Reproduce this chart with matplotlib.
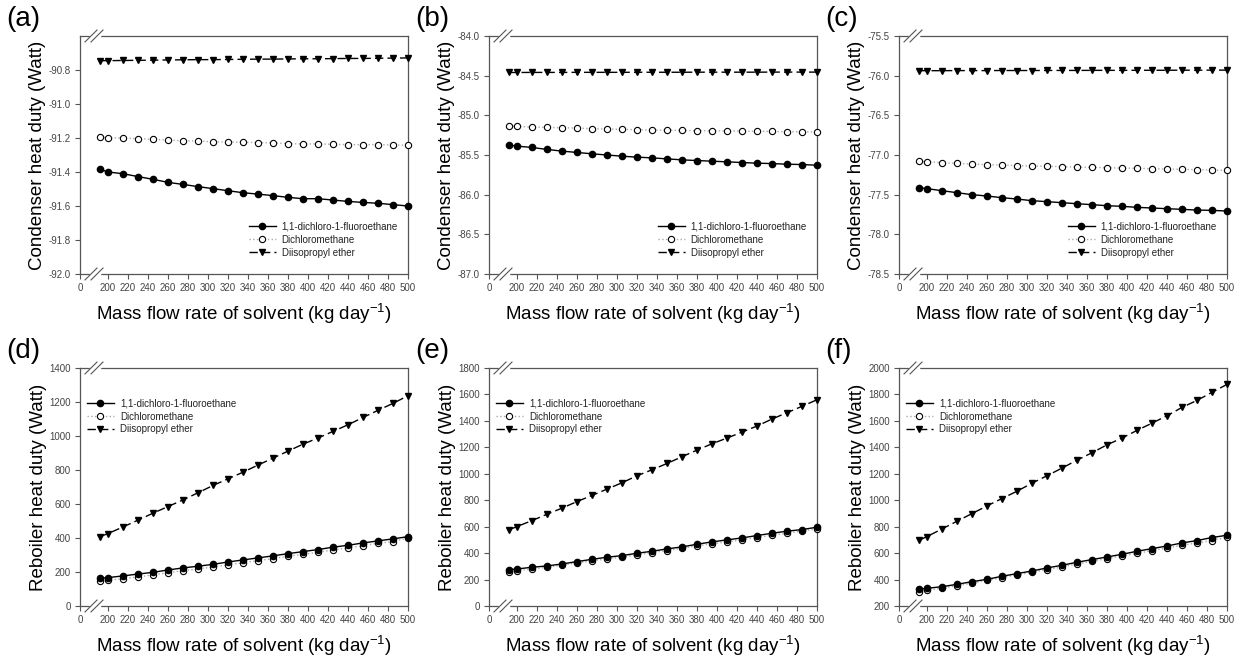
import matplotlib
matplotlib.use("Agg")
import matplotlib.pyplot as plt
import matplotlib.transforms as mtransforms

plt.rcParams['font.family'] = ['Liberation Sans', 'DejaVu Sans']

# mass flow rate of solvent (kg/day); first point sits just after the axis break
flow = [192, 200, 215, 230, 245, 260, 275, 290, 305, 320, 335, 350,
        365, 380, 395, 410, 425, 440, 455, 470, 485, 500]

solvents = ["1,1-dichloro-1-fluoroethane", "Dichloromethane", "Diisopropyl ether"]

# condenser heat duty (Watt), panels a-c
cond_a_dcfe = [-91.384, -91.400, -91.410, -91.427, -91.443, -91.461, -91.473, -91.486,
               -91.498, -91.510, -91.522, -91.530, -91.539, -91.549, -91.557, -91.557,
               -91.565, -91.573, -91.579, -91.584, -91.592, -91.600]
cond_a_dcm = [-91.194, -91.198, -91.200, -91.204, -91.208, -91.212, -91.216, -91.218,
              -91.222, -91.224, -91.225, -91.227, -91.229, -91.233, -91.235, -91.235,
              -91.237, -91.239, -91.239, -91.239, -91.241, -91.243]
cond_a_dipe = [-90.745, -90.745, -90.744, -90.743, -90.742, -90.741, -90.740, -90.739,
               -90.739, -90.738, -90.737, -90.736, -90.736, -90.735, -90.734, -90.734,
               -90.733, -90.732, -90.732, -90.731, -90.730, -90.729]

cond_b_dcfe = [-85.375, -85.388, -85.405, -85.430, -85.451, -85.468, -85.485, -85.500,
               -85.515, -85.527, -85.536, -85.549, -85.561, -85.570, -85.578, -85.586,
               -85.595, -85.603, -85.608, -85.616, -85.620, -85.629]
cond_b_dcm = [-85.135, -85.139, -85.148, -85.152, -85.156, -85.160, -85.169, -85.173,
              -85.177, -85.181, -85.186, -85.186, -85.190, -85.194, -85.194, -85.198,
              -85.198, -85.203, -85.203, -85.207, -85.207, -85.211]
cond_b_dipe = [-84.460, -84.460, -84.459, -84.459, -84.459, -84.458, -84.458, -84.458,
               -84.458, -84.457, -84.457, -84.457, -84.457, -84.456, -84.456, -84.456,
               -84.456, -84.456, -84.455, -84.455, -84.455, -84.455]

cond_c_dcfe = [-77.412, -77.424, -77.450, -77.475, -77.500, -77.517, -77.538, -77.555,
               -77.576, -77.588, -77.601, -77.614, -77.626, -77.639, -77.647, -77.660,
               -77.668, -77.677, -77.685, -77.694, -77.698, -77.706]
cond_c_dcm = [-77.080, -77.084, -77.097, -77.105, -77.114, -77.122, -77.126, -77.135,
              -77.139, -77.143, -77.147, -77.152, -77.156, -77.160, -77.164, -77.168,
              -77.173, -77.177, -77.181, -77.185, -77.190, -77.194]
cond_c_dipe = [-75.937, -75.937, -75.937, -75.936, -75.936, -75.936, -75.935, -75.935,
               -75.935, -75.934, -75.934, -75.934, -75.933, -75.933, -75.933, -75.932,
               -75.932, -75.932, -75.931, -75.931, -75.930, -75.930]

# reboiler heat duty (Watt), panels d-f
reb_d_dcfe = [163, 167, 177, 188, 198, 212, 224, 234, 245, 259, 271, 283,
              295, 308, 320, 332, 346, 357, 371, 383, 395, 408]
reb_d_dcm = [149, 151, 161, 171, 183, 196, 208, 218, 230, 242, 255, 267,
             279, 293, 304, 316, 330, 342, 355, 369, 379, 400]
reb_d_dipe = [408, 426, 465, 505, 546, 585, 624, 666, 709, 748, 787, 829,
              870, 911, 952, 988, 1027, 1066, 1109, 1151, 1192, 1237]

reb_e_dcfe = [275, 280, 293, 303, 318, 336, 353, 369, 381, 399, 414, 432,
              447, 467, 485, 500, 515, 533, 550, 566, 578, 596]
reb_e_dcm = [255, 268, 278, 293, 308, 326, 341, 356, 369, 386, 404, 419,
             437, 454, 470, 485, 500, 518, 535, 550, 566, 583]
reb_e_dipe = [576, 601, 646, 694, 740, 790, 836, 884, 932, 985, 1030, 1078,
              1129, 1179, 1227, 1270, 1315, 1361, 1414, 1462, 1510, 1560]

reb_f_dcfe = [326, 334, 346, 364, 384, 402, 425, 445, 465, 488, 508, 531,
              551, 571, 591, 614, 634, 654, 677, 695, 718, 735]
reb_f_dcm = [309, 319, 334, 354, 372, 394, 415, 435, 455, 475, 495, 518,
             538, 558, 578, 598, 619, 639, 659, 677, 695, 720]
reb_f_dipe = [697, 725, 783, 841, 899, 957, 1013, 1068, 1129, 1185, 1243, 1303,
              1359, 1419, 1470, 1528, 1583, 1639, 1702, 1755, 1816, 1876]

panel_tags = ["(a)", "(b)", "(c)", "(d)", "(e)", "(f)"]
panel_series = [
    (cond_a_dcfe, cond_a_dcm, cond_a_dipe),
    (cond_b_dcfe, cond_b_dcm, cond_b_dipe),
    (cond_c_dcfe, cond_c_dcm, cond_c_dipe),
    (reb_d_dcfe, reb_d_dcm, reb_d_dipe),
    (reb_e_dcfe, reb_e_dcm, reb_e_dipe),
    (reb_f_dcfe, reb_f_dcm, reb_f_dipe),
]
y_limits = [(-92.0, -90.6), (-87.0, -84.0), (-78.5, -75.5), (0, 1400), (0, 1800), (200, 2000)]
y_steps = [0.2, 0.5, 0.5, 200, 200, 200]
y_last_tick = [-90.8, -84.0, -75.5, 1400, 1800, 2000]
y_labels = ["Condenser heat duty (Watt)"] * 3 + ["Reboiler heat duty (Watt)"] * 3

x_left = 172   # where the "0" of the broken axis sits
x_break = 187
spine_col = "#555555"
tick_col = "#444444"

fig = plt.figure(figsize=(12.4, 6.59), dpi=100)

lefts = [80 / 1240, 489 / 1240, 899 / 1240]
bottoms = [1 - 274 / 659, 1 - 606 / 659]
w = 328 / 1240
h = 238 / 659

for i in range(6):
    row, col = divmod(i, 3)
    ax = fig.add_axes([lefts[col], bottoms[row], w, h])
    dcfe, dcm, dipe = panel_series[i]

    ax.plot(flow, dcm, linestyle=":", color="#aaaaaa", lw=1.0, marker="o", ms=4.5,
            mfc="white", mec="black", mew=0.8, label=solvents[1], clip_on=False, zorder=3)
    ax.plot(flow, dcfe, linestyle="-", color="black", lw=1.0, marker="o", ms=4.5,
            mfc="black", mec="black", label=solvents[0], clip_on=False, zorder=4)
    ax.plot(flow, dipe, linestyle=(0, (6, 3)), color="black", lw=1.0, marker="v", ms=5,
            mfc="black", mec="black", label=solvents[2], clip_on=False, zorder=4)

    ax.set_xlim(x_left, 500)
    ax.set_ylim(*y_limits[i])
    xt = [x_left] + list(range(200, 501, 20))
    ax.set_xticks(xt)
    ax.set_xticklabels(["0"] + [str(v) for v in range(200, 501, 20)])

    lo = y_limits[i][0]
    step = y_steps[i]
    yt = []
    v = lo
    while v <= y_last_tick[i] + step * 0.01:
        yt.append(round(v, 3))
        v += step
    ax.set_yticks(yt)
    if i < 3:
        ax.set_yticklabels([f"{t:.1f}" for t in yt])
    else:
        ax.set_yticklabels([f"{int(t)}" for t in yt])

    ax.tick_params(direction="out", length=3.5, width=0.8, color=spine_col,
                   labelsize=7, labelcolor=tick_col, pad=3)
    for s in ax.spines.values():
        s.set_color(spine_col)
        s.set_linewidth(0.9)

    ax.set_ylabel(y_labels[i], fontsize=13.5, labelpad=2)
    ax.set_xlabel("Mass flow rate of solvent (kg day$^{\\mathregular{-1}}$)", fontsize=13.5, labelpad=6)

    # axis break marks on top and bottom spines
    tr = mtransforms.blended_transform_factory(ax.transData, ax.transAxes)
    for yb in (0, 1):
        ax.plot([x_break - 4, x_break + 4], [yb, yb], color="white", lw=2.5,
                transform=tr, clip_on=False, zorder=5)
        for dx in (-4, 2):
            ax.plot([x_break + dx - 6, x_break + dx + 6], [yb - 0.025, yb + 0.025],
                    color=spine_col, lw=0.8, transform=tr, clip_on=False, zorder=6)

    handles, labels = ax.get_legend_handles_labels()
    order = [1, 0, 2]
    if i < 3:
        leg = ax.legend([handles[k] for k in order], [labels[k] for k in order],
                        loc="lower right", bbox_to_anchor=(0.99, 0.04), frameon=False,
                        fontsize=7, handlelength=2.8, handletextpad=0.6,
                        labelspacing=0.3, borderaxespad=0.3)
    else:
        leg = ax.legend([handles[k] for k in order], [labels[k] for k in order],
                        loc="upper left", bbox_to_anchor=(0.0, 0.9), frameon=False,
                        fontsize=7, handlelength=2.8, handletextpad=0.6,
                        labelspacing=0.3, borderaxespad=0.3)
    for t in leg.get_texts():
        t.set_color("#222222")

    fig.text(lefts[col] - 74 / 1240, bottoms[row] + h + 17 / 659, panel_tags[i],
             fontsize=20, ha="left", va="center")

fig.savefig("out.png", dpi=100)
